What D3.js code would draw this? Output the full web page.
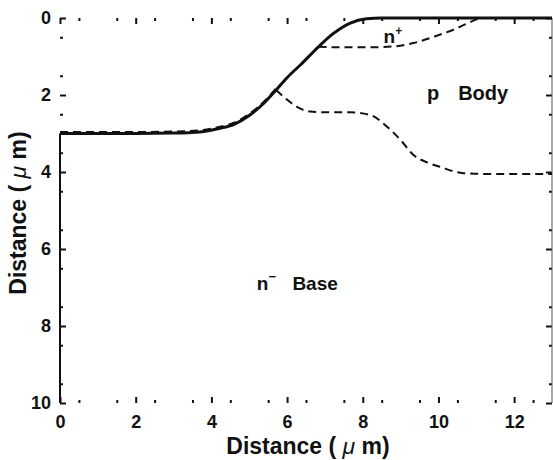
<!DOCTYPE html>
<html>
<head>
<meta charset="utf-8">
<script src="https://cdn.jsdelivr.net/npm/d3@7"></script>
<style>
  body { margin: 0; background: #fff; }
  text { font-family: "Liberation Sans", Arial, Helvetica, sans-serif; font-weight: bold; fill: #111; }
</style>
</head>
<body>
<div id="chart"></div>
<script>
// silicon surface (solid)
var surfaceX = [0, 1, 2, 3, 3.7, 4.2, 4.6, 5.0, 5.4, 5.71, 6.0, 6.35, 6.83, 7.2, 7.67, 8.1, 8.5, 9, 13];
var surfaceY = [3, 3, 3, 2.99, 2.96, 2.87, 2.76, 2.53, 2.2, 1.87, 1.55, 1.22, 0.75, 0.42, 0.13, 0.02, 0, 0, 0];

// p body / n- base junction branch (dashed)
var junctionX = [5.71, 6.0, 6.3, 6.61, 7.0, 7.67, 8.2, 8.65, 9.0, 9.34, 9.7, 10.05, 10.66, 11.2, 13];
var junctionY = [1.87, 2.12, 2.33, 2.43, 2.45, 2.45, 2.52, 2.83, 3.17, 3.56, 3.75, 3.87, 4.03, 4.05, 4.05];

// n+ / p body junction (dashed)
var nplusX = [6.83, 7.5, 8.2, 8.8, 9.34, 9.9, 10.5, 10.85, 11.1];
var nplusY = [0.75, 0.76, 0.76, 0.74, 0.65, 0.48, 0.26, 0.1, 0];

var majorTicks = [0, 2, 4, 6, 8, 10, 12];
var yMajorTicks = [0, 2, 4, 6, 8, 10];
var xMinorTicks = d3.range(0.5, 13.01, 1);
var yMinorTicks = d3.range(0.5, 10.01, 1);

var width = 553, height = 460;

var svg = d3.select("#chart")
    .append("svg")
    .attr("width", width)
    .attr("height", height);

var x = d3.scaleLinear().domain([0, 13]).range([60, 552]);
var y = d3.scaleLinear().domain([0, 10]).range([18, 403]);

function toPts(xs, ys) {
    return xs.map(function (v, i) { return [v, ys[i]]; });
}

var line = d3.line()
    .x(d => x(d[0]))
    .y(d => y(d[1]))
    .curve(d3.curveMonotoneX);

// axes: ticks only, pointing inwards
function styleAxis(g) {
    g.select(".domain").remove();
    g.selectAll("line").attr("stroke", "#111").attr("stroke-width", 2);
    g.selectAll("text").style("font-size", "18px").attr("fill", "#111");
}

svg.append("g")
    .attr("transform", "translate(" + x(0) + ",0)")
    .call(d3.axisLeft(y).tickValues(yMajorTicks).tickSize(-6).tickPadding(9).tickFormat(d3.format("d")))
    .call(styleAxis);
svg.append("g")
    .attr("transform", "translate(" + x(0) + ",0)")
    .call(d3.axisLeft(y).tickValues(yMinorTicks).tickSize(-3).tickFormat(""))
    .call(styleAxis);

svg.append("g")
    .attr("transform", "translate(0," + y(10) + ")")
    .call(d3.axisBottom(x).tickValues(majorTicks).tickSize(-6).tickPadding(12).tickFormat(d3.format("d")))
    .call(styleAxis);
svg.append("g")
    .attr("transform", "translate(0," + y(10) + ")")
    .call(d3.axisBottom(x).tickValues(xMinorTicks).tickSize(-3).tickFormat(""))
    .call(styleAxis);

svg.append("g")
    .attr("transform", "translate(0," + y(0) + ")")
    .call(d3.axisTop(x).tickValues(majorTicks).tickSize(-6).tickFormat(""))
    .call(styleAxis);
svg.append("g")
    .attr("transform", "translate(0," + y(0) + ")")
    .call(d3.axisTop(x).tickValues(xMinorTicks).tickSize(-3).tickFormat(""))
    .call(styleAxis);

svg.append("g")
    .attr("transform", "translate(" + x(13) + ",0)")
    .call(d3.axisRight(y).tickValues(yMajorTicks).tickSize(-6).tickFormat(""))
    .call(styleAxis);
svg.append("g")
    .attr("transform", "translate(" + x(13) + ",0)")
    .call(d3.axisRight(y).tickValues(yMinorTicks).tickSize(-3).tickFormat(""))
    .call(styleAxis);

// device edges
svg.append("line")
    .attr("x1", x(0)).attr("x2", x(0))
    .attr("y1", y(surfaceY[0])).attr("y2", y(10))
    .attr("stroke", "#111").attr("stroke-width", 2);
svg.append("line")
    .attr("x1", x(13)).attr("x2", x(13))
    .attr("y1", y(0)).attr("y2", y(10))
    .attr("stroke", "#555").attr("stroke-width", 1);

// surface
var surface = toPts(surfaceX, surfaceY);
svg.append("path")
    .datum(surface)
    .attr("d", line)
    .attr("fill", "none")
    .attr("stroke", "#111")
    .attr("stroke-width", 3);

// dashed junction following the surface up to the branch point
svg.append("path")
    .datum(surface.filter(d => d[0] <= 5.71).map(d => [d[0], d[1] - 0.04]))
    .attr("d", line)
    .attr("fill", "none")
    .attr("stroke", "#111")
    .attr("stroke-width", 2)
    .attr("stroke-dasharray", "8,5");

svg.append("path")
    .datum(toPts(junctionX, junctionY))
    .attr("d", line)
    .attr("fill", "none")
    .attr("stroke", "#111")
    .attr("stroke-width", 2)
    .attr("stroke-dasharray", "8,5");

svg.append("path")
    .datum(toPts(nplusX, nplusY))
    .attr("d", line)
    .attr("fill", "none")
    .attr("stroke", "#111")
    .attr("stroke-width", 2)
    .attr("stroke-dasharray", "8,5");

// region labels
var nplus = svg.append("text")
    .attr("x", x(8.55)).attr("y", y(0.65))
    .style("font-size", "19px");
nplus.append("tspan").text("n");
nplus.append("tspan").attr("dy", -8).style("font-size", "12px").text("+");

svg.append("text")
    .attr("x", x(9.7)).attr("y", y(2.13))
    .style("font-size", "20px")
    .text("p");
svg.append("text")
    .attr("x", x(10.52)).attr("y", y(2.13))
    .style("font-size", "20px")
    .text("Body");

var nbase = svg.append("text")
    .attr("x", x(5.2)).attr("y", y(7.06))
    .style("font-size", "19px");
nbase.append("tspan").text("n");
nbase.append("tspan").attr("dy", -9).style("font-size", "13px").text("\u2212");
svg.append("text")
    .attr("x", x(6.14)).attr("y", y(7.06))
    .style("font-size", "19px")
    .text("Base");

// axis titles
var xt = svg.append("text")
    .attr("x", 308).attr("y", 454)
    .attr("text-anchor", "middle")
    .style("font-size", "23px");
xt.append("tspan").text("Distance ( ");
xt.append("tspan").style("font-style", "italic").style("font-weight", "normal").text("\u03bc");
xt.append("tspan").text(" m)");

var yt = svg.append("text")
    .attr("transform", "translate(26,213) rotate(-90)")
    .attr("text-anchor", "middle")
    .style("font-size", "23px");
yt.append("tspan").text("Distance ( ");
yt.append("tspan").style("font-style", "italic").style("font-weight", "normal").text("\u03bc");
yt.append("tspan").text(" m)");
</script>
</body>
</html>
